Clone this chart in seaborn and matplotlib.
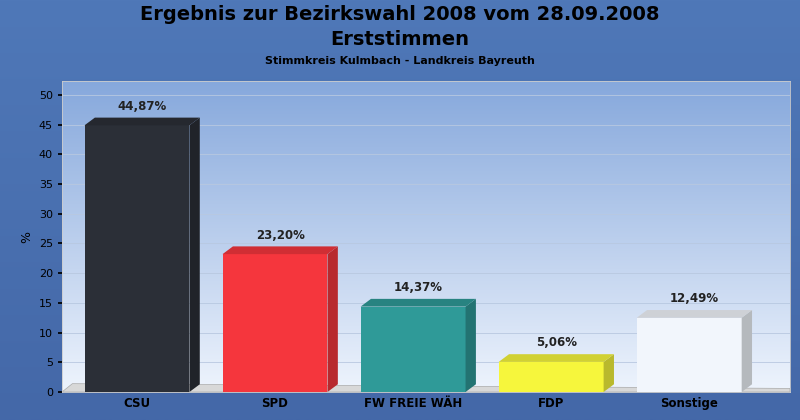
import matplotlib
matplotlib.use("Agg")
import matplotlib.pyplot as plt
import seaborn as sns
import numpy as np
import pandas as pd
from matplotlib.patches import Polygon
import matplotlib.colors as mc

categories = ["CSU", "SPD", "FW FREIE WÄH", "FDP", "Sonstige"]
values = [44.87, 23.20, 14.37, 5.06, 12.49]
labels = ["44,87%", "23,20%", "14,37%", "5,06%", "12,49%"]
colors = ["#2b2f37", "#f5363d", "#2f9a98", "#f6f63c", "#f2f6fc"]

sns.set_theme(style="white")
plt.rcParams['font.family'] = ['DejaVu Sans']
fig = plt.figure(figsize=(8, 4.2), dpi=100)

bg = fig.add_axes([0, 0, 1, 1], zorder=-10)
grad = np.linspace(0, 1, 256).reshape(-1, 1)
bg.imshow(grad, aspect="auto", extent=[0, 1, 0, 1],
          cmap=mc.LinearSegmentedColormap.from_list("b", ["#4f78b8", "#4468a8"]))
bg.axis("off")

ax = fig.add_axes([0.0775, 0.0667, 0.91, 0.74])
ax.imshow(grad, aspect="auto", extent=[-0.543, 4.73, 0, 52.3], origin="lower",
          cmap=mc.LinearSegmentedColormap.from_list("p", ["#eef4fd", "#86a8dc"]), zorder=0)

df = pd.DataFrame({"cat": categories, "val": values})
sns.barplot(data=df, x="cat", y="val", hue="cat", palette=colors, width=0.76,
            ax=ax, legend=False, saturation=1, zorder=3, edgecolor="none", linewidth=0)
ax.set_xlim(-0.543, 4.73)
ax.set_ylim(0, 52.3)
dx, dy = 0.075, 1.3
ax.add_patch(Polygon([(-0.543, 0), (4.73, 0), (4.73, 0.6), (-0.543 + dx, 1.4)], closed=True,
                     fc="#d8d8d8", ec="#aaaaaa", lw=0.5, zorder=2, clip_on=False))
for p, c, lab in zip(ax.patches, colors, labels):
    x0, w, h = p.get_x(), p.get_width(), p.get_height()
    dark = np.array(mc.to_rgb(c)) * 0.75
    ax.add_patch(Polygon([(x0 + w, 0), (x0 + w + dx, dy), (x0 + w + dx, h + dy), (x0 + w, h)],
                         fc=dark, ec="none", zorder=3))
    ax.add_patch(Polygon([(x0, h), (x0 + dx, h + dy), (x0 + w + dx, h + dy), (x0 + w, h)],
                         fc=np.array(mc.to_rgb(c)) * 0.85, ec="none", zorder=3))
    ax.text(x0 + w / 2 + dx / 2, h + dy + 0.8, lab, ha="center", va="bottom",
            fontsize=8.5, fontweight="bold", color="#222222")
ax.set_yticks(range(0, 51, 5))
ax.yaxis.grid(True, color="#b8c8e0", lw=0.6)
ax.set_axisbelow(True)
ax.tick_params(axis="y", labelsize=8, colors="black", length=3, left=True)
ax.tick_params(axis="x", labelsize=8.5, length=0, colors="black")
for t in ax.get_xticklabels():
    t.set_fontweight("bold")
ax.set_xlabel("")
ax.set_ylabel("%", fontsize=9, color="black")
for s in ax.spines.values():
    s.set_color("#cccccc")
    s.set_linewidth(0.6)

fig.text(0.5, 0.965, "Ergebnis zur Bezirkswahl 2008 vom 28.09.2008", ha="center", va="center",
         fontsize=14, fontweight="bold", color="black")
fig.text(0.5, 0.905, "Erststimmen", ha="center", va="center", fontsize=14, fontweight="bold",
         color="black")
fig.text(0.5, 0.855, "Stimmkreis Kulmbach - Landkreis Bayreuth", ha="center", va="center",
         fontsize=8, fontweight="bold", color="black")
fig.savefig("out.png", dpi=100)
